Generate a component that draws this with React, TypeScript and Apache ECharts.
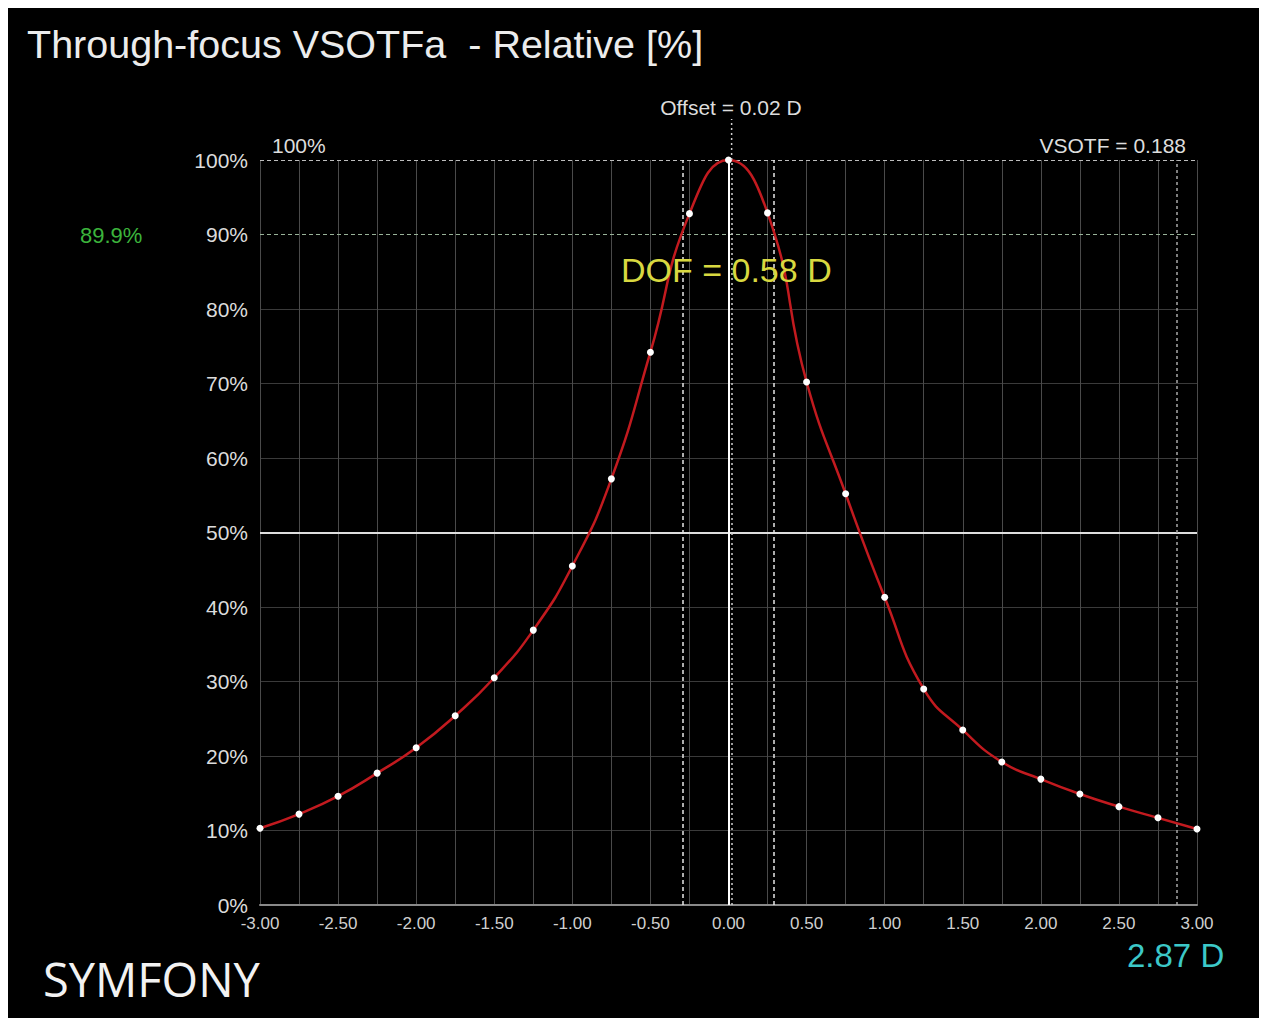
import React, { useEffect, useRef } from 'react';
import * as echarts from 'echarts';

// Defocus [D]
const defocus = [
  -3.0, -2.75, -2.5, -2.25, -2.0, -1.75, -1.5, -1.25, -1.0, -0.75, -0.5, -0.25,
  0.0, 0.25, 0.5, 0.75, 1.0, 1.25, 1.5, 1.75, 2.0, 2.25, 2.5, 2.75, 3.0,
];
// Relative VSOTFa [%]
const relative = [
  10.3, 12.2, 14.6, 17.7, 21.1, 25.4, 30.5, 36.9, 45.5, 57.2, 74.2, 92.8,
  100.0, 92.9, 70.2, 55.2, 41.3, 29.0, 23.5, 19.2, 16.9, 14.9, 13.2, 11.7, 10.2,
];

const offsetD = 0.02;
const dofLeft = -0.29;
const dofRight = 0.29;
const farPoint = 2.87;
const thresholdPct = 90;
const halfPct = 50;

const titleText = 'Through-focus VSOTFa  - Relative [%]';
const offsetText = 'Offset = 0.02 D';
const vsotfText = 'VSOTF = 0.188';
const hundredText = '100%';
const thresholdText = '89.9%';
const dofText = 'DOF = 0.58 D';
const brandText = 'SYMFONY';
const rangeText = '2.87 D';

const FONT = '"Liberation Sans", Arial, sans-serif';

export default function App() {
  const ref = useRef<HTMLDivElement>(null);

  useEffect(() => {
    if (!ref.current) return;
    const chart = echarts.init(ref.current, undefined, { renderer: 'svg' });

    const vLine = (x: number, color: string, width: number, type: any) => [
      { coord: [x, 0], lineStyle: { color, width, type } },
      { coord: [x, 100] },
    ];
    const hLine = (y: number, color: string, width: number, type: any) => [
      { coord: [-3, y], lineStyle: { color, width, type } },
      { coord: [3, y] },
    ];

    chart.setOption({
      animation: false,
      backgroundColor: '#000000',
      grid: { left: 252, right: 62, top: 152, bottom: 113 },
      xAxis: {
        type: 'value',
        min: -3,
        max: 3,
        interval: 0.25,
        axisLine: { show: true, lineStyle: { color: '#8a8a8a', width: 2 } },
        axisTick: { show: false },
        splitLine: { show: true, lineStyle: { color: '#4a4a4a', width: 1 } },
        axisLabel: {
          color: '#cfcfcf',
          fontSize: 17,
          fontFamily: FONT,
          margin: 10,
          showMinLabel: true,
          showMaxLabel: true,
          formatter: (v: number) =>
            Math.abs(v * 2 - Math.round(v * 2)) < 1e-6 ? v.toFixed(2) : '',
        },
      },
      yAxis: {
        type: 'value',
        min: 0,
        max: 100,
        interval: 10,
        axisLine: { show: false },
        axisTick: { show: false },
        splitLine: {
          show: true,
          lineStyle: {
            color: [
              'transparent', '#3a3a3a', '#3a3a3a', '#3a3a3a', '#3a3a3a', 'transparent',
              '#3a3a3a', '#3a3a3a', '#3a3a3a', 'transparent', 'transparent',
            ],
            width: 1,
          },
        },
        axisLabel: {
          color: '#dcdcdc',
          fontSize: 21,
          fontFamily: FONT,
          margin: 12,
          formatter: '{value}%',
        },
      },
      series: [
        {
          type: 'line',
          data: defocus.map((x, i) => [x, relative[i]]),
          smooth: 0.5,
          symbol: 'circle',
          symbolSize: 7,
          itemStyle: { color: '#ffffff', borderWidth: 0 },
          lineStyle: { color: '#c21a1f', width: 2.5 },
          z: 5,
          markLine: {
            silent: true,
            symbol: 'none',
            label: { show: false },
            z: 3,
            data: [
              hLine(thresholdPct, '#98b298', 1, [4, 3]),
              hLine(100, '#bdbdbd', 1, [4, 3]),
              hLine(halfPct, '#dedede', 2, 'solid'),
              vLine(dofLeft, '#e6e6e6', 1.5, [4, 3]),
              vLine(dofRight, '#e6e6e6', 1.5, [4, 3]),
              vLine(farPoint, '#a8a8a8', 1.5, [3, 3]),
              vLine(0, '#ffffff', 2, 'solid'),
              vLine(offsetD, '#d0d0d0', 1.5, [2, 3]),
            ],
          },
        },
      ],
    });

    const top = chart.convertToPixel({ gridIndex: 0 }, [offsetD, 100]) as number[];

    const txt = (
      text: string, x: number, y: number, size: number, fill: string,
      align: string = 'left', family: string = FONT,
    ) => ({
      type: 'text',
      x,
      y,
      z: 100,
      style: {
        text,
        fill,
        fontSize: size,
        fontFamily: family,
        textAlign: align,
        textVerticalAlign: 'middle',
      },
    });

    chart.setOption({
      graphic: [
        {
          type: 'line',
          z: 100,
          shape: { x1: top[0], y1: top[1], x2: top[0], y2: top[1] - 41 },
          style: { stroke: '#cfcfcf', lineWidth: 1.5, lineDash: [2, 3] },
        },
        txt(titleText, 19, 36, 39.5, '#ececec'),
        txt(offsetText, 723, 99, 21, '#dddddd', 'center'),
        txt(vsotfText, 1178, 137, 21, '#dddddd', 'right'),
        txt(hundredText, 264, 137, 21, '#dddddd'),
        txt(thresholdText, 72, 227, 22, '#3cb43c'),
        txt(dofText, 613, 262, 34, '#d8d840'),
        txt(brandText, 35, 971, 47, '#f2f2f2', 'left', '"Open Sans", "Noto Sans", sans-serif'),
        txt(rangeText, 1119, 947, 33, '#3cc8c8'),
      ],
    });

    return () => chart.dispose();
  }, []);

  return <div ref={ref} style={{ width: 1251, height: 1010, background: '#000' }} />;
}
